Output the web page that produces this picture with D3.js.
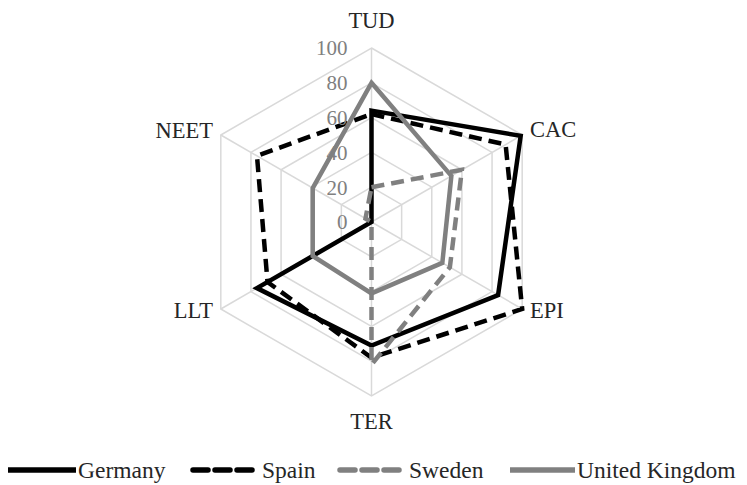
<!DOCTYPE html>
<html>
<head>
<meta charset="utf-8">
<script src="https://cdn.jsdelivr.net/npm/d3@7"></script>
<style>
  body { margin: 0; background: #fff; }
  text { font-family: "Liberation Serif", "DejaVu Serif", serif; }
</style>
</head>
<body>
<div id="chart"></div>
<script>
// axes, clockwise from the top
var axes = ["TUD", "CAC", "EPI", "TER", "LLT", "NEET"];
var ticks = [0, 20, 40, 60, 80, 100];

var germany = [64, 99, 84, 71, 76, 0];
var spain   = [62, 89, 100, 78, 69, 76];
var sweden  = [20, 60, 52, 82, 0, 4];
var uk      = [80, 53, 47, 41, 39, 39];

var seriesNames = ["Germany", "Spain", "Sweden", "United Kingdom"];
var seriesValues = [germany, spain, sweden, uk];
var seriesColors = ["#000000", "#000000", "#808080", "#808080"];
var seriesDash = [null, "13,7", "13,7", null];

var width = 747, height = 485;
var cx = 371.5, cy = 222, R = 174;

var svg = d3.select("#chart").append("svg")
	.attr("width", width).attr("height", height);

var g = svg.append("g").attr("transform", "translate(" + cx + "," + cy + ")");

var r = d3.scaleLinear().domain([0, 100]).range([0, R]);
var angle = d3.scalePoint().domain(axes).range([0, 2 * Math.PI * 5 / 6]);

function pt(axis, v) {
	var a = angle(axis);
	return [r(v) * Math.sin(a), -r(v) * Math.cos(a)];
}

// grid hexagons
g.selectAll(".grid").data(ticks.slice(1)).enter()
	.append("polygon")
	.attr("class", "grid")
	.attr("points", function(t) {
		return axes.map(function(a) { return pt(a, t).join(","); }).join(" ");
	})
	.attr("fill", "none")
	.attr("stroke", "#d9d9d9")
	.attr("stroke-width", 1.5);

// spokes
g.selectAll(".spoke").data(axes).enter()
	.append("line")
	.attr("x1", 0).attr("y1", 0)
	.attr("x2", function(a) { return pt(a, 100)[0]; })
	.attr("y2", function(a) { return pt(a, 100)[1]; })
	.attr("stroke", "#d9d9d9")
	.attr("stroke-width", 1.5);

// series
var line = d3.lineRadial()
	.angle(function(d, i) { return angle(axes[i]); })
	.radius(function(d) { return r(d); })
	.curve(d3.curveLinearClosed);

seriesValues.forEach(function(vals, i) {
	g.append("path")
		.attr("d", line(vals))
		.attr("fill", "none")
		.attr("stroke", seriesColors[i])
		.attr("stroke-width", 4.5)
		.attr("stroke-dasharray", seriesDash[i])
		.attr("stroke-linejoin", "miter");
});

// tick labels along the TUD axis
g.selectAll(".tick").data(ticks).enter()
	.append("text")
	.attr("x", -24)
	.attr("y", function(t) { return -r(t); })
	.attr("dy", "0.35em")
	.attr("text-anchor", "end")
	.attr("fill", "#808080")
	.style("font-size", "21px")
	.text(function(t) { return t; });

// axis labels (baseline positions)
var labelPos = {
	TUD:  { x: 0, y: -194, anchor: "middle" },
	CAC:  { x: 158.5, y: -85, anchor: "start" },
	EPI:  { x: 158.5, y: 96, anchor: "start" },
	TER:  { x: 0, y: 207, anchor: "middle" },
	LLT:  { x: -158.5, y: 96, anchor: "end" },
	NEET: { x: -158.5, y: -84, anchor: "end" }
};
g.selectAll(".axisLabel").data(axes).enter()
	.append("text")
	.attr("x", function(a) { return labelPos[a].x; })
	.attr("y", function(a) { return labelPos[a].y; })
	.attr("text-anchor", function(a) { return labelPos[a].anchor; })
	.attr("fill", "#262626")
	.style("font-size", "22.5px")
	.text(function(a) { return a; });

// legend
var legendX = [8, 193, 340, 510];
var legendW = [68, 60, 60, 65];
var legend = svg.append("g");
seriesNames.forEach(function(name, i) {
	legend.append("line")
		.attr("x1", legendX[i]).attr("x2", legendX[i] + legendW[i])
		.attr("y1", 470).attr("y2", 470)
		.attr("stroke", seriesColors[i])
		.attr("stroke-width", 5.5)
		.attr("stroke-dasharray", seriesDash[i] ? "15,7" : null)
		.attr("stroke-linecap", seriesDash[i] ? "round" : "butt");
	legend.append("text")
		.attr("x", legendX[i] + legendW[i] + (seriesDash[i] ? 9 : 2))
		.attr("y", 478)
		.attr("fill", "#262626")
		.style("font-size", "23.5px")
		.text(name);
});
</script>
</body>
</html>
